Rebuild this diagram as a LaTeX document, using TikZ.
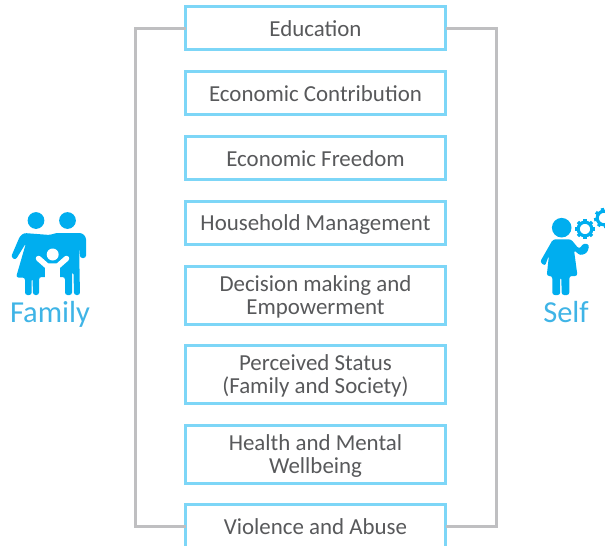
\documentclass[tikz,border=0pt]{standalone}
\usepackage{fontspec}
\usetikzlibrary{calc}
\setmainfont{Carlito}
\definecolor{boxc}{HTML}{7DD6F7}
\definecolor{linec}{HTML}{BFBFC1}
\definecolor{icon}{HTML}{00AEEF}
\definecolor{lab}{HTML}{3FB4E6}
\definecolor{txt}{HTML}{58595B}
\tikzset{
 item/.style={draw=boxc,line width=3pt,fill=white,minimum width=260pt,anchor=north west,outer sep=0pt,text=txt,font=\fontsize{22.9}{23}\selectfont,align=center,inner sep=0pt},
 conn/.style={draw=linec,line width=3pt},
 side/.style={text=lab,font=\fontsize{30.5}{31}\selectfont,inner sep=0pt,anchor=base},
 shape1/.style={fill=icon,rounded corners=2.5pt},
 cut/.style={draw=white,line width=5.5pt,line cap=round,line join=round},
}
\newcommand{\ts}{\rule{0pt}{18.5pt}}
\newcommand{\bs}{\rule[-4.5pt]{0pt}{4.5pt}}
\newcommand{\one}{\rule[-3.5pt]{0pt}{23pt}}
\newcommand{\mygear}[3]{%
  \foreach \an in {0,45,...,315}{\draw[icon,line width=3.2pt] ($(#1,#2)+(\an+#3:5.5pt)$) -- ($(#1,#2)+(\an+#3:10pt)$);}%
  \draw[icon,line width=3.2pt] (#1,#2) circle (6.8pt);
}
\begin{document}
\begin{tikzpicture}[x=1pt,y=-1pt]
\useasboundingbox (0,0) rectangle (605,546);
\node[item,minimum height=43pt] (a) at (185.5,6.5) {\one Education};
\node[item,minimum height=43pt] (b) at (185.5,71.5) {\one Economic Contribution};
\node[item,minimum height=43pt] (c) at (185.5,136.5) {\one Economic Freedom};
\node[item,minimum height=43pt] (d) at (185.5,201.5) {\one Household Management};
\node[item,minimum height=58pt] (e) at (185.5,266.5) {\ts Decision making and\\\bs Empowerment};
\node[item,minimum height=58pt] (f) at (185.5,345.5) {\ts Perceived Status\\\bs (Family and Society)};
\node[item,minimum height=58pt] (g) at (185.5,425.5) {\ts Health and Mental\\\bs Wellbeing};
\node[item,minimum height=43pt] (h) at (185.5,504.5) {\one Violence and Abuse};
\coordinate (lx) at (135,0);
\coordinate (rx) at (496,0);
\draw[conn] (a.west) -- (lx |- a.west) -- (lx |- h.west) -- (h.west);
\draw[conn] (a.east) -- (rx |- a.east) -- (rx |- h.east) -- (h.east);
\node[side] (fam) at (50,322) {Family};
\node[side] (slf) at (566,322) {Self};
% family icon
\fill[icon] (36,220.5) circle (8.4pt);
\fill[icon] (67.5,220.5) circle (8.4pt);
\fill[shape1] (24,233) -- (50,235) -- (56,233) -- (82,233) -- (86,237) -- (86,258) -- (80,258) -- (79,243) -- (80,295) -- (74,295) -- (73.5,272) -- (72,272) -- (72,295) -- (65,295) -- (65,277) -- (39,277) -- (39,295) -- (33,295) -- (32.5,278) -- (31.7,278) -- (31.7,295) -- (25,295) -- (25,277.5) -- (16,277.5) -- (26,243) -- (15.5,260) -- (11,257) -- (20,236) -- cycle;
\fill[white] (52.7,254.5) circle (6pt);
\draw[cut] (38.5,258.5) -- (47,266) -- (58,266) -- (66.5,258.5);
\fill[white] (45,265) rectangle (60,296);
% self icon
\fill[icon] (561.7,227.7) circle (9.8pt);
\fill[shape1] (553,239.3) -- (571,239.3) -- (579,249) -- (584,243) -- (589.5,245) -- (587,253) -- (580,255.5) -- (574,250) -- (577.5,276) -- (569.3,276) -- (569.3,295) -- (561.7,295) -- (561.3,277) -- (560.2,277) -- (560.2,295) -- (552.3,295) -- (552.3,276) -- (546.7,276) -- (549,255) -- (545,266) -- (540,262) -- cycle;
\mygear{585}{229}{0}
\mygear{604}{218}{10}
\end{tikzpicture}
\end{document}
